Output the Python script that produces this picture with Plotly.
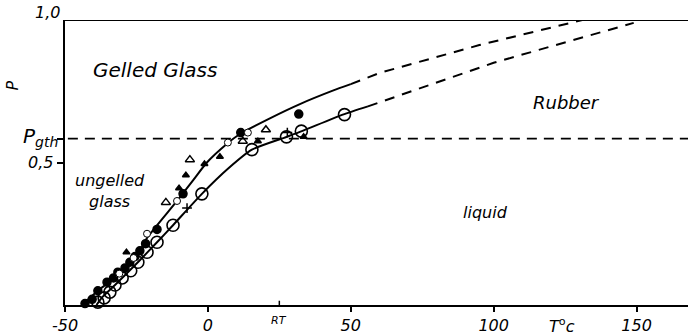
import plotly.graph_objects as go

# ---- data ----
P_GTH = 0.584
RT = 25

upper_x = [-44, -38.5, -35, -31.5, -27, -23.8, -21.3, -10.8, -5, -0.35, 6.6, 11.2, 21.7, 32.2, 43.7, 50]
upper_y = [0.0, 0.05, 0.077, 0.11, 0.15, 0.19, 0.235, 0.365, 0.44, 0.50, 0.565, 0.60, 0.655, 0.705, 0.752, 0.775]
upper_dash_x = [50, 60, 95, 131]
upper_dash_y = [0.775, 0.814, 0.912, 1.0]

lower_x = [-39, -36.7, -32.5, -24.5, -17.8, -12.2, -2.1, 7, 15.4, 27.6, 32.9, 47.2, 56]
lower_y = [0.0, 0.03, 0.07, 0.15, 0.22, 0.28, 0.39, 0.478, 0.545, 0.59, 0.61, 0.668, 0.697]
lower_dash_x = [56, 100, 149]
lower_dash_y = [0.697, 0.85, 0.99]

big_open_x = [-38.5, -36.3, -34.3, -32.5, -30, -27, -24.5, -21.3, -17.8, -12.2, -2.1, 15.4, 27.5, 32.7, 47.8]
big_open_y = [0.01, 0.025, 0.045, 0.07, 0.095, 0.12, 0.15, 0.185, 0.22, 0.28, 0.39, 0.545, 0.59, 0.61, 0.668]

filled_x = [-43, -40.5, -38.5, -35.3, -33, -31.5, -29, -27.3, -25.5, -23.8, -21.8, -17.8, -8.7, 11.5, 31.8]
filled_y = [0.005, 0.02, 0.05, 0.08, 0.095, 0.115, 0.13, 0.15, 0.17, 0.19, 0.215, 0.265, 0.39, 0.605, 0.67]

small_open_x = [-31, -26, -21.3, -10.8, 7, 14]
small_open_y = [0.11, 0.165, 0.25, 0.365, 0.57, 0.605]

small_tri_x = [-28.5, -10.1, -7.7, -1.2, 4.2, 17.5, 33.5]
small_tri_y = [0.185, 0.41, 0.455, 0.495, 0.52, 0.575, 0.59]

open_tri_x = [-14.7, -6.3, 12.2, 20.3]
open_tri_y = [0.36, 0.51, 0.575, 0.615]

cross_x = [-7.3, 27.8]
cross_y = [0.34, 0.605]

x_ticks = [-50, 0, 50, 100, 150]
x_tick_text = ["-50", "0", "50", "100", "150"]

FONT = "DejaVu Sans"
BLACK = "black"

fig = go.Figure()

def line(x, y, dash=None, spline=True):
    ln = dict(color=BLACK, width=2, dash=dash)
    if spline:
        ln.update(shape="spline", smoothing=0.6)
    fig.add_trace(go.Scatter(x=x, y=y, mode="lines", line=ln, hoverinfo="skip", showlegend=False))

line(upper_x, upper_y)
line(upper_dash_x, upper_dash_y, "10px,8px", spline=False)
line(lower_x, lower_y)
line(lower_dash_x, lower_dash_y, "10px,8px", spline=False)

# horizontal P_gth line
fig.add_trace(go.Scatter(x=[-49, 168], y=[P_GTH, P_GTH], mode="lines",
                         line=dict(color=BLACK, width=1.8, dash="10px,7px"), showlegend=False, hoverinfo="skip"))

def markers(x, y, symbol, size, fill="black", lw=1.5):
    fig.add_trace(go.Scatter(x=x, y=y, mode="markers", cliponaxis=False, showlegend=False,
                             marker=dict(symbol=symbol, size=size, color=fill,
                                         line=dict(color=BLACK, width=lw))))

markers(big_open_x, big_open_y, "circle-open", 12, fill=BLACK, lw=1.6)
markers(filled_x, filled_y, "circle", 8)
markers(small_open_x, small_open_y, "circle", 7, fill="white", lw=1)
markers(small_tri_x, small_tri_y, "triangle-up", 6)
markers(open_tri_x, open_tri_y, "triangle-up-open", 8, fill=BLACK, lw=1.5)
markers(cross_x, cross_y, "cross-thin-open", 7, fill=BLACK, lw=1.5)

fig.update_layout(
    width=688, height=336,
    margin=dict(l=65, r=0, t=20, b=31),
    paper_bgcolor="white", plot_bgcolor="white",
    font=dict(family=FONT, color=BLACK, size=16),
    showlegend=False,
    xaxis=dict(range=[-50, 168], showline=True, linecolor=BLACK, linewidth=2,
               ticks="outside", ticklen=5, tickwidth=1.5, tickcolor=BLACK,
               tickvals=x_ticks, ticktext=["<i>%s</i>" % t for t in x_tick_text],
               tickfont=dict(size=16), showgrid=False, zeroline=False, fixedrange=True),
    yaxis=dict(range=[0, 1], showline=True, linecolor=BLACK, linewidth=2,
               ticks="outside", ticklen=6, tickwidth=1.5, tickcolor=BLACK,
               tickvals=[0.5, P_GTH], showticklabels=False,
               showgrid=False, zeroline=False, fixedrange=True),
)

# top frame line
fig.add_shape(type="line", xref="paper", yref="y", x0=0, x1=1, y0=1, y1=1,
              line=dict(color=BLACK, width=2))
# RT tick (inside)
fig.add_shape(type="line", xref="x", yref="y", x0=RT, x1=RT, y0=0, y1=0.015,
              line=dict(color=BLACK, width=1.5))

def ann(text, x, y, size=16, xref="x", yref="y", xanchor="center", yanchor="middle", angle=0, xshift=0, yshift=0):
    fig.add_annotation(text=text, x=x, y=y, xref=xref, yref=yref, showarrow=False,
                       xanchor=xanchor, yanchor=yanchor, textangle=angle,
                       font=dict(family=FONT, size=size, color=BLACK), xshift=xshift, yshift=yshift)

ann("<i>Gelled Glass</i>", -18.5, 0.825, size=20)
ann("<i>Rubber</i>", 125.5, 0.71, size=18)
ann("<i>ungelled<br>glass</i>", -34.3, 0.40, size=16)
ann("<i>liquid</i>", 97, 0.325, size=16)
ann("<i>RT</i>", RT, 0, size=11, yanchor="top", yshift=-7)
ann("<i>T</i><sup>o</sup><i>c</i>", 123.8, 0, size=16, yanchor="top", yshift=-8)

# y labels
ann("<i>1,0</i>", 0, 1, size=16, xref="paper", xanchor="right", yanchor="bottom", xshift=-3, yshift=-4)
ann("<i>0,5</i>", 0, 0.5, size=16, xref="paper", xanchor="right", xshift=-10)
ann("<i>P<sub>gth</sub></i>", 0, P_GTH, size=20, xref="paper", xanchor="right", xshift=-5, yshift=2)
ann("<i>P</i>", 0, 0.77, size=16, xref="paper", xanchor="center", xshift=-52, angle=-90)

fig.write_html("out.html")
